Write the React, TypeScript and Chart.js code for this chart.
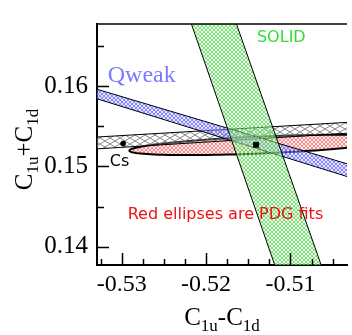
import React, { useEffect, useRef } from 'react';
import { Chart, registerables } from 'chart.js';
Chart.register(...registerables);

// Axis ranges and ticks
const X_MIN = -0.53294;
const X_MAX = -0.50329;
const Y_MIN = 0.13774;
const Y_MAX = 0.16773;
const X_MAJOR = [-0.53, -0.52, -0.51];
const X_MINOR = [-0.5325, -0.5275, -0.525, -0.5225, -0.5175, -0.515, -0.5125, -0.5075, -0.505];
const Y_MAJOR = [0.14, 0.15, 0.16];
const Y_MINOR = [0.145, 0.155, 0.165];

// SOLID band (two edges, each [top, bottom] in data units)
const SOLID_LEFT = [[-0.52216, 0.169], [-0.51129, 0.136]];
const SOLID_RIGHT = [[-0.51683, 0.169], [-0.50577, 0.136]];

// Qweak band edges ([left, right])
const QWEAK_UPPER = [[-0.534, 0.15994], [-0.502, 0.14993]];
const QWEAK_LOWER = [[-0.534, 0.15877], [-0.502, 0.14833]];

// APV / gray band edges
const GRAY_UPPER = [[-0.534, 0.1536], [-0.502, 0.15557]];
const GRAY_LOWER = [[-0.534, 0.15212], [-0.502, 0.15422]];

// PDG ellipse: centre, conjugate half-axes
const PDG_CENTER = [-0.51341, 0.15268];
const PDG_AXIS_A = [0.015698, 0.000703];
const PDG_AXIS_B = [0, 0.001054];

// Marker points
const CS_POINT = [-0.52984, 0.15285];
const FIT_POINT = [-0.51407, 0.1527];

const pt = (p: number[]) => ({ x: p[0], y: p[1] });

function bandPolygon(e1: number[][], e2: number[][]) {
  return [pt(e1[0]), pt(e1[1]), pt(e2[1]), pt(e2[0]), pt(e1[0])];
}

function ellipsePoints(c: number[], a: number[], b: number[]) {
  const out: { x: number; y: number }[] = [];
  const n = 120;
  for (let i = 0; i <= n; i++) {
    const t = (i / n) * Math.PI * 2;
    out.push({
      x: c[0] + a[0] * Math.cos(t) + b[0] * Math.sin(t),
      y: c[1] + a[1] * Math.cos(t) + b[1] * Math.sin(t),
    });
  }
  return out;
}

function makePattern(line: string, bg: string, w: number, h: number) {
  const c = document.createElement('canvas');
  c.width = w;
  c.height = h;
  const g = c.getContext('2d')!;
  g.fillStyle = bg;
  g.fillRect(0, 0, w, h);
  g.strokeStyle = line;
  g.lineWidth = 1;
  g.beginPath();
  g.moveTo(0, 0);
  g.lineTo(w, h);
  g.moveTo(w, 0);
  g.lineTo(0, h);
  g.stroke();
  return g.createPattern(c, 'repeat')!;
}

const SERIF = '"Liberation Serif", "DejaVu Serif", serif';
const SANS = '"DejaVu Sans", sans-serif';

function drawSubTitle(ctx: CanvasRenderingContext2D, parts: [string, boolean][], cx: number, base: number) {
  const main = `25px ${SERIF}`;
  const sub = `17px ${SERIF}`;
  let total = 0;
  const widths = parts.map(([s, isSub]) => {
    ctx.font = isSub ? sub : main;
    const w = ctx.measureText(s).width;
    total += w;
    return w;
  });
  let x = cx - total / 2;
  ctx.textAlign = 'left';
  ctx.textBaseline = 'alphabetic';
  ctx.fillStyle = '#000';
  parts.forEach(([s, isSub], i) => {
    ctx.font = isSub ? sub : main;
    ctx.fillText(s, x, base + (isSub ? 6 : 0));
    x += widths[i];
  });
}

const decorPlugin = {
  id: 'decor',
  afterDatasetsDraw(chart: any) {
    const { ctx, chartArea, scales } = chart;
    const xs = scales.x;
    const ys = scales.y;
    ctx.save();
    // annotations
    ctx.textBaseline = 'alphabetic';
    ctx.font = `16px ${SANS}`;
    ctx.fillStyle = '#33dd33';
    ctx.textAlign = 'center';
    ctx.fillText('SOLID', xs.getPixelForValue(-0.51108), ys.getPixelForValue(0.16551));
    ctx.textAlign = 'left';
    ctx.font = `24px ${SERIF}`;
    ctx.fillStyle = '#7b7bff';
    ctx.fillText('Qweak', xs.getPixelForValue(-0.53166), ys.getPixelForValue(0.16047));
    ctx.font = `16px ${SANS}`;
    ctx.fillStyle = '#000';
    ctx.fillText('Cs', xs.getPixelForValue(-0.53143), ys.getPixelForValue(0.1501));
    ctx.fillStyle = '#ee1111';
    ctx.fillText('Red ellipses are PDG fits', xs.getPixelForValue(-0.5293), ys.getPixelForValue(0.14348));

    // inward tick marks
    ctx.strokeStyle = '#000';
    ctx.lineWidth = 1.5;
    ctx.beginPath();
    const b = chartArea.bottom;
    const l = chartArea.left;
    X_MAJOR.forEach((v) => {
      const p = Math.round(xs.getPixelForValue(v)) + 0.5;
      ctx.moveTo(p, b);
      ctx.lineTo(p, b - 12);
    });
    X_MINOR.forEach((v) => {
      const p = Math.round(xs.getPixelForValue(v)) + 0.5;
      ctx.moveTo(p, b);
      ctx.lineTo(p, b - 6);
    });
    Y_MAJOR.forEach((v) => {
      const p = Math.round(ys.getPixelForValue(v)) + 0.5;
      ctx.moveTo(l, p);
      ctx.lineTo(l + 12, p);
    });
    Y_MINOR.forEach((v) => {
      const p = Math.round(ys.getPixelForValue(v)) + 0.5;
      ctx.moveTo(l, p);
      ctx.lineTo(l + 7, p);
    });
    ctx.stroke();
    // top frame
    ctx.lineWidth = 1.5;
    ctx.beginPath();
    ctx.moveTo(l, chartArea.top);
    ctx.lineTo(chartArea.right, chartArea.top);
    ctx.stroke();

    // axis titles
    drawSubTitle(ctx, [['C', false], ['1u', true], ['-', false], ['C', false], ['1d', true]], (chartArea.left + chartArea.right) / 2, 325);
    ctx.save();
    ctx.translate(32, (chartArea.top + chartArea.bottom) / 2 + 5);
    ctx.rotate(-Math.PI / 2);
    drawSubTitle(ctx, [['C', false], ['1u', true], ['+', false], ['C', false], ['1d', true]], 0, 0);
    ctx.restore();
    ctx.restore();
  },
};

export default function App() {
  const ref = useRef<HTMLCanvasElement>(null);
  useEffect(() => {
    const green = makePattern('rgba(90,215,90,0.75)', 'rgba(205,250,195,0.35)', 4, 4);
    const blue = makePattern('rgba(110,110,255,0.8)', 'rgba(170,170,255,0.3)', 4, 4);
    const red = makePattern('rgba(245,120,120,0.8)', 'rgba(250,195,195,0.35)', 4, 4);
    const gray = makePattern('rgba(110,110,110,0.8)', 'rgba(255,255,255,0.2)', 10, 6);
    const common = { showLine: true, pointRadius: 0, borderColor: '#000', clip: 0, tension: 0 };
    const chart = new Chart(ref.current!, {
      type: 'scatter',
      data: {
        datasets: [
          { label: 'Cs', data: [pt(CS_POINT)], pointRadius: 2.5, pointStyle: 'circle', backgroundColor: '#000', borderColor: '#000', order: 0 },
          { label: 'fit', data: [pt(FIT_POINT)], pointRadius: 3.5, pointStyle: 'rect', backgroundColor: '#000', borderColor: '#000', order: 0 },
          { ...common, label: 'SOLID', data: bandPolygon(SOLID_LEFT, SOLID_RIGHT), fill: 'shape', backgroundColor: green, borderWidth: 1, order: 1 },
          { ...common, label: 'Qweak', data: bandPolygon(QWEAK_UPPER, QWEAK_LOWER), fill: 'shape', backgroundColor: blue, borderWidth: 1, order: 2 },
          { ...common, label: 'APV', data: bandPolygon(GRAY_UPPER, GRAY_LOWER), fill: 'shape', backgroundColor: gray, borderWidth: 1, order: 3 },
          { ...common, label: 'PDG', data: ellipsePoints(PDG_CENTER, PDG_AXIS_A, PDG_AXIS_B), fill: 'shape', backgroundColor: red, borderWidth: 2, order: 4 },
        ] as any,
      },
      options: {
        responsive: false,
        animation: false,
        devicePixelRatio: 1,
        events: [],
        layout: { padding: { top: 9, right: 0, left: 0, bottom: 0 } },
        plugins: { legend: { display: false }, tooltip: { enabled: false } },
        scales: {
          x: {
            type: 'linear',
            min: X_MIN,
            max: X_MAX,
            afterBuildTicks: (s: any) => { s.ticks = X_MAJOR.map((v) => ({ value: v })); },
            afterFit: (s: any) => { s.height = 70; },
            ticks: { color: '#000', font: { family: SERIF, size: 24 }, padding: 5, maxRotation: 0, autoSkip: false, callback: (v: any) => Number(v).toFixed(2) },
            grid: { display: false, drawTicks: false },
            border: { display: true, color: '#000', width: 2 },
          },
          y: {
            type: 'linear',
            min: Y_MIN,
            max: Y_MAX,
            afterBuildTicks: (s: any) => { s.ticks = Y_MAJOR.map((v) => ({ value: v })); },
            afterFit: (s: any) => { s.width = 97; },
            ticks: { color: '#000', font: { family: SERIF, size: 25 }, padding: 9, autoSkip: false, callback: (v: any) => Number(v).toFixed(2) },
            grid: { display: false, drawTicks: false },
            border: { display: true, color: '#000', width: 2 },
          },
        },
      } as any,
      plugins: [decorPlugin],
    });
    return () => chart.destroy();
  }, []);
  return (
    <div style={{ position: 'absolute', left: 0, top: 0, width: 352, height: 335, background: '#fff', overflow: 'hidden' }}>
      <canvas ref={ref} width={352} height={335} style={{ width: 352, height: 335, display: 'block' }} />
    </div>
  );
}
